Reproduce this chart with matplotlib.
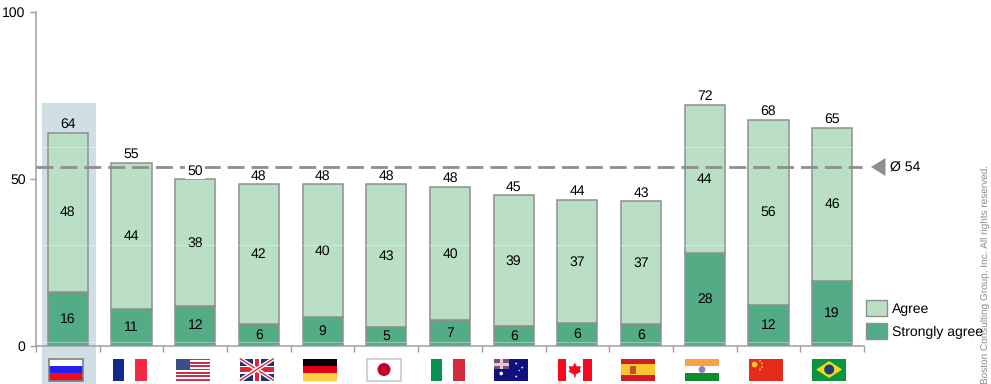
import numpy as np
import matplotlib.pyplot as plt
from matplotlib.patches import Rectangle, Circle, Polygon

plt.rcParams["font.family"] = ["Liberation Sans", "DejaVu Sans"]
plt.rcParams["text.hinting"] = "no_hinting"
plt.rcParams["text.hinting_factor"] = 1

countries = ["Russia", "France", "USA", "UK", "Germany", "Japan", "Italy",
             "Australia", "Canada", "Spain", "India", "China", "Brazil"]
strongly = [16, 10.8, 11.8, 6.3, 8.5, 5.5, 7.5, 5.8, 6.6, 6.3, 27.7, 12.1, 19.3]
agree = [47.7, 43.9, 38, 42, 39.8, 42.8, 40, 39.2, 37, 36.9, 44.3, 55.5, 45.9]
strongly_labels = [16, 11, 12, 6, 9, 5, 7, 6, 6, 6, 28, 12, 19]
agree_labels = [48, 44, 38, 42, 40, 43, 40, 39, 37, 37, 44, 56, 46]
total_labels = [64, 55, 50, 48, 48, 48, 48, 45, 44, 43, 72, 68, 65]
mean_value = 53.5
mean_label = "Ø 54"
yticks = [0, 50, 100]

LIGHT = "#badfc4"
DARK = "#53ac86"
GREY = "#8f8f8f"
FS = 10.2

fig = plt.figure(figsize=(9.91, 3.84), dpi=100)
ax = fig.add_axes([36 / 991, 1 - 345.5 / 384, 828 / 991, 333.5 / 384])
# overlay in pixel coordinates, for flags and the bits outside the axes
px = fig.add_axes([0, 0, 1, 1], zorder=5)
px.set_xlim(0, 991)
px.set_ylim(384, 0)
px.axis("off")
px.patch.set_alpha(0)

x = np.arange(len(countries))
ax.set_xlim(-0.5, 12.5)
ax.set_ylim(0, 100)

# highlight behind Russia
bg = fig.add_axes([0, 0, 1, 1], zorder=-1)
bg.set_xlim(0, 991)
bg.set_ylim(384, 0)
bg.axis("off")
bg.add_patch(Rectangle((42, 102.5), 54, 281.5, fc="#d0dfe5", ec="none"))
ax.patch.set_alpha(0)

edge = dict(edgecolor=GREY, linewidth=1.1, width=0.63)
ax.bar(x, strongly, color=DARK, **edge)
ax.bar(x, agree, bottom=strongly, color=LIGHT, **edge)

for i in x:
    top = strongly[i] + agree[i]
    ax.text(i, strongly[i] / 2, str(strongly_labels[i]), ha="center", va="center", fontsize=FS)
    ax.text(i, strongly[i] + agree[i] / 2, str(agree_labels[i]), ha="center", va="center", fontsize=FS)
    # the 50 label sits on the mean line and masks it
    mask = dict(fc="white", ec="none", pad=1.5) if 0 < mean_value - top < 5 else None
    ax.annotate(str(total_labels[i]), (i, top), xytext=(0, 1.5), textcoords="offset points",
                ha="center", va="bottom", fontsize=FS, bbox=mask, zorder=6)

ax.plot([-0.5, 12.47], [mean_value, mean_value], color=GREY, lw=2, dashes=(6.1, 2.5), zorder=4)

for s in ["top", "right"]:
    ax.spines[s].set_visible(False)
for s in ["left", "bottom"]:
    ax.spines[s].set_color("#a0a0a0")
    ax.spines[s].set_linewidth(1.1)
ax.set_yticks(yticks)
ax.set_xticks(np.arange(-0.5, 13, 1))
ax.set_xticklabels([])
ax.tick_params(axis="y", color="#a0a0a0", length=4.5, width=1, labelsize=FS, pad=3)
ax.tick_params(axis="x", color="#a0a0a0", length=4, width=1)

# faint white streaks seen across the reference
for yy in [49, 147, 245, 342]:
    px.plot([36, 864], [yy, yy], color="white", lw=0.8, alpha=0.35)

# mean marker
px.add_patch(Polygon([[871, 167], [885.5, 158], [885.5, 176]], fc=GREY, ec="none"))
px.text(890.5, 167.5, mean_label, fontsize=FS, va="center", ha="left")

# legend
px.add_patch(Rectangle((865.5, 299.5), 21, 16, fc=LIGHT, ec=GREY, lw=1))
px.add_patch(Rectangle((865.5, 322.5), 21, 16, fc=DARK, ec=GREY, lw=1))
px.text(892, 309, "Agree", fontsize=FS, va="center", ha="left")
px.text(892, 332, "Strongly agree", fontsize=FS, va="center", ha="left", zorder=6)

px.text(985, 383.5, "Boston Consulting Group, Inc. All rights reserved.", rotation=90,
        fontsize=7.3, color="#8a8a8a", ha="center", va="bottom")


# flags, drawn box by box
def box(x0, y0, w, h, c):
    px.add_patch(Rectangle((x0, y0), w, h, fc=c, ec="none"))


def stripes_h(x0, y0, w, h, cols):
    for k, c in enumerate(cols):
        box(x0, y0 + k * h / len(cols), w, h / len(cols), c)


def stripes_v(x0, y0, w, h, cols):
    for k, c in enumerate(cols):
        box(x0 + k * w / len(cols), y0, w / len(cols), h, c)


def flag(name, x0, y0, w=34, h=22):
    if name == "Russia":
        stripes_h(x0, y0, w, h, ["white", "#2222ee", "#ee0c1e"])
        px.add_patch(Rectangle((x0, y0), w, h, fc="none", ec="#808080", lw=1.2))
    elif name == "France":
        stripes_v(x0, y0, w, h, ["#122a8c", "white", "#f42a42"])
    elif name == "USA":
        stripes_h(x0, y0, w, h, ["#c8324e", "white"] * 6 + ["#c8324e"])
        box(x0, y0, 14, 11, "#3a4f86")
    elif name == "UK":
        box(x0, y0, w, h, "#1c2f78")
        for a, b in [((x0, y0), (x0 + w, y0 + h)), ((x0, y0 + h), (x0 + w, y0))]:
            px.plot([a[0], b[0]], [a[1], b[1]], color="white", lw=3, solid_capstyle="butt")
            px.plot([a[0], b[0]], [a[1], b[1]], color="#d8283c", lw=1, solid_capstyle="butt")
        box(x0 + w / 2 - 4, y0, 8, h, "white")
        box(x0, y0 + h / 2 - 4, w, 8, "white")
        box(x0 + w / 2 - 2.2, y0, 4.4, h, "#d8283c")
        box(x0, y0 + h / 2 - 2.2, w, 4.4, "#d8283c")
    elif name == "Germany":
        stripes_h(x0, y0, w, h, ["black", "#e2001a", "#ffcc40"])
    elif name == "Japan":
        box(x0, y0, w, h, "white")
        px.add_patch(Rectangle((x0, y0), w, h, fc="none", ec="#c8c8c8", lw=1.2))
        px.add_patch(Circle((x0 + w / 2, y0 + h / 2), 6.5, fc="#c4002f", ec="none"))
    elif name == "Italy":
        stripes_v(x0, y0, w, h, ["#0a9150", "white", "#d42a3c"])
    elif name == "Australia":
        box(x0, y0, w, h, "#10107e")
        box(x0, y0, 15, 10, "#7a4f80")
        box(x0 + 6, y0, 3, 10, "#e8c8d0")
        box(x0, y0 + 4, 15, 3, "#e8c8d0")
        for dx, dy, r in [(7, 15, 1.8), (22, 5, 0.9), (28, 9, 0.9), (22, 18, 0.9), (25, 12, 0.7)]:
            px.add_patch(Circle((x0 + dx, y0 + dy), r, fc="white", ec="none"))
    elif name == "Canada":
        box(x0, y0, w, h, "white")
        box(x0, y0, 8.5, h, "#f5091f")
        box(x0 + w - 8.5, y0, 8.5, h, "#f5091f")
        cx, cy = x0 + w / 2, y0 + h / 2
        px.add_patch(Polygon([[cx, cy - 7], [cx + 2, cy - 3], [cx + 6, cy - 3.5], [cx + 5, cy + 1],
                              [cx + 6.5, cy + 2], [cx + 1, cy + 5], [cx + 0.6, cy + 8], [cx - 0.6, cy + 8],
                              [cx - 1, cy + 5], [cx - 6.5, cy + 2], [cx - 5, cy + 1], [cx - 6, cy - 3.5],
                              [cx - 2, cy - 3]], fc="#f5091f", ec="none"))
    elif name == "Spain":
        box(x0, y0, w, h, "#d41a28")
        box(x0, y0 + h / 4, w, h / 2, "#fbc52c")
        px.add_patch(Rectangle((x0 + 9, y0 + 7), 6, 8, fc="#c0502a", ec="none"))
    elif name == "India":
        stripes_h(x0, y0, w, h, ["#ff9f45", "white", "#138a2c"])
        px.add_patch(Circle((x0 + w / 2, y0 + h / 2), 3.4, fc="#7f86b8", ec="none"))
    elif name == "China":
        box(x0, y0, w, h, "#e62a1c")
        px.add_patch(Circle((x0 + 6, y0 + 6), 2.8, fc="#fbd32c", ec="none"))
        for dx, dy in [(11.5, 2.5), (13.5, 5), (13.5, 8.5), (11.5, 11)]:
            px.add_patch(Circle((x0 + dx, y0 + dy), 0.9, fc="#fbd32c", ec="none"))
    elif name == "Brazil":
        box(x0, y0, w, h, "#0a9440")
        px.add_patch(Polygon([[x0 + 4, y0 + h / 2], [x0 + w / 2, y0 + 2.5], [x0 + w - 4, y0 + h / 2],
                              [x0 + w / 2, y0 + h - 2.5]], fc="#f2d91c", ec="none"))
        px.add_patch(Circle((x0 + w / 2, y0 + h / 2), 5, fc="#1f3d80", ec="none"))


for i, name in enumerate(countries):
    flag(name, 49 + i * 63.6, 358.5)

fig.savefig("out.png", dpi=100)
